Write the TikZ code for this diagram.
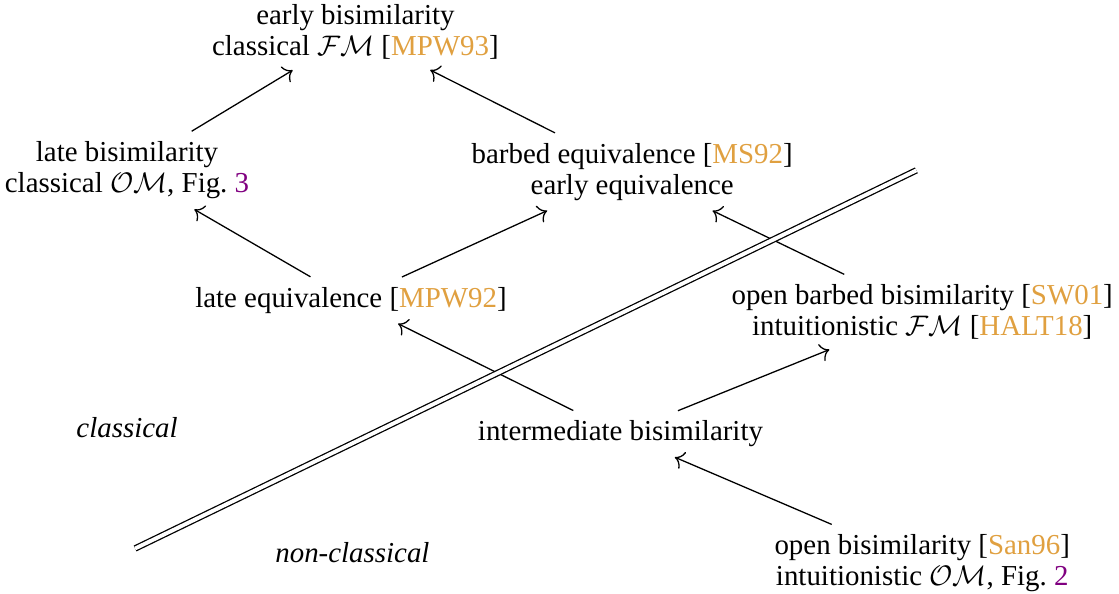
\documentclass[tikz,border=0pt]{standalone}
\usepackage{fontspec}
\setmainfont{Liberation Serif}
\usetikzlibrary{arrows.meta}
\definecolor{citecol}{RGB}{224,160,64}
\definecolor{refcol}{RGB}{128,0,128}
\newcommand{\bibref}[1]{[\textcolor{citecol}{#1}]}
\newcommand{\figref}[1]{Fig.~\textcolor{refcol}{#1}}

\begin{document}
\begin{tikzpicture}
		[every node/.style={align=center,font=\fontsize{11.2}{12}\selectfont},
		region/.style={font=\fontsize{11.2}{12}\selectfont\itshape},
		impl/.style={-{To[scale=1.25]},line width=0.5pt,shorten <=1pt,shorten >=1pt},
		border/.style={double,line width=0.5pt,double distance=1.5pt},
		]
		\useasboundingbox (0,0) rectangle (15.24,8.08);

		\node (eb) at (4.84,7.64) {early bisimilarity\\ classical $\mathcal{FM}$ \bibref{MPW93}};
		\node (lb) at (1.73,5.76) {late bisimilarity\\ classical $\mathcal{OM}$, \figref{3}};
		\node (be) at (8.61,5.74) {barbed equivalence \bibref{MS92}\\ early equivalence};
		\node (le) at (4.78,3.99) {late equivalence \bibref{MPW92}};
		\node (obb) at (12.56,3.83) {open barbed bisimilarity \bibref{SW01}\\ intuitionistic $\mathcal{FM}$ \bibref{HALT18}};
		\node (ib) at (8.45,2.17) {intermediate bisimilarity};
		\node (ob) at (12.56,0.41) {open bisimilarity \bibref{San96}\\ intuitionistic $\mathcal{OM}$, \figref{2}};

		\node[region] (cl) at (1.73,2.26) {classical};
		\node[region] (ncl) at (4.80,0.55) {non-classical};

		\draw[impl] (lb) -- (eb);
		\draw[impl] (be) -- (eb);
		\draw[impl] (le) -- (lb);
		\draw[impl] (le) -- (be);
		\draw[impl] (obb) -- (be);
		\draw[impl] (ib) -- (le);
		\draw[impl] (ib) -- (obb);
		\draw[impl] (ob) -- (ib);

		% classical / non-classical border
		\coordinate (d1) at (1.84,0.61);
		\coordinate (d2) at (12.48,5.76);
		\draw[border] (d1) -- (d2);
	\end{tikzpicture}
\end{document}
